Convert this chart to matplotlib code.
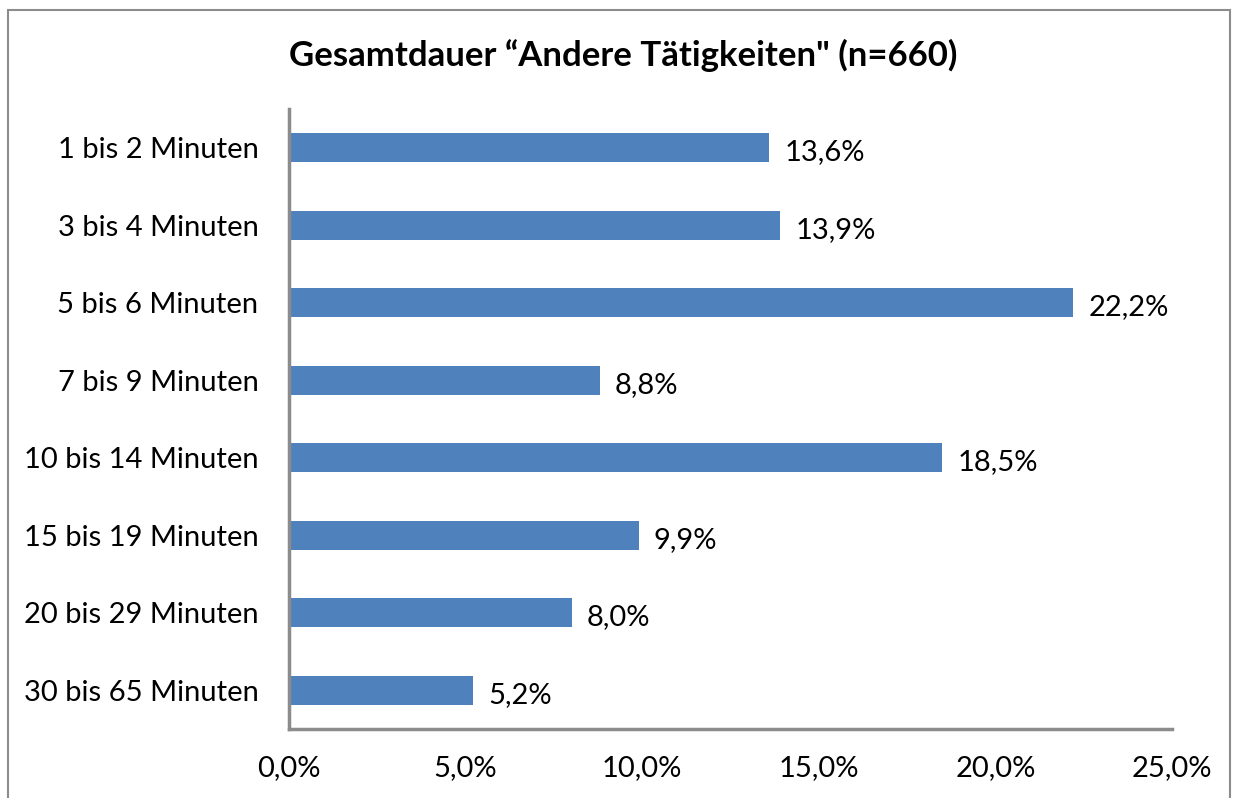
import matplotlib
matplotlib.use("Agg")
import matplotlib.pyplot as plt
from matplotlib.patches import Rectangle

categories = ["1 bis 2 Minuten", "3 bis 4 Minuten", "5 bis 6 Minuten", "7 bis 9 Minuten",
              "10 bis 14 Minuten", "15 bis 19 Minuten", "20 bis 29 Minuten", "30 bis 65 Minuten"]
values = [13.6, 13.9, 22.2, 8.8, 18.5, 9.9, 8.0, 5.2]
xticks = [0, 5, 10, 15, 20, 25]
title = "Gesamtdauer \u201cAndere T\u00e4tigkeiten\" (n=660)"

plt.rcParams['font.family'] = ['Lato', 'DejaVu Sans']

W, H = 1238, 798
fig = plt.figure(figsize=(W / 100, H / 100), dpi=100)
ax = fig.add_axes([289 / W, 1 - 729 / H, (1172 - 289) / W, (729 - 109) / H])

FS = 21
y = list(range(len(categories)))
ax.barh(y, values, height=0.375, color="#4F81BD", zorder=2)
for yi, v in zip(y, values):
    ax.text(v + 0.43, yi + 0.06, f"{v:.1f}%".replace(".", ","), va="center", ha="left",
            fontsize=FS, color="black")

ax.set_ylim(len(categories) - 0.5, -0.5)
ax.set_xlim(0, 25)
ax.set_yticks(y)
ax.set_yticklabels(categories, fontsize=FS)
ax.set_xticks(xticks)
ax.set_xticklabels([f"{t:.1f}%".replace(".", ",") for t in xticks], fontsize=FS)
ax.tick_params(axis="both", length=0)
ax.tick_params(axis="y", pad=22)
ax.tick_params(axis="x", pad=19)
for s in ["top", "right"]:
    ax.spines[s].set_visible(False)
for s in ["left", "bottom"]:
    ax.spines[s].set_color("#8C8C8C")
    ax.spines[s].set_linewidth(2.5)

fig.text(623 / W, 1 - 55 / H, title, ha="center", va="center", fontsize=25, fontweight="bold")

fig.patches.append(Rectangle((8 / W, -0.01), (1230 - 8) / W, (H - 10) / H + 0.01,
                             transform=fig.transFigure, fill=False, edgecolor="#8C8C8C",
                             linewidth=1.5))

fig.savefig("out.png", dpi=100)
